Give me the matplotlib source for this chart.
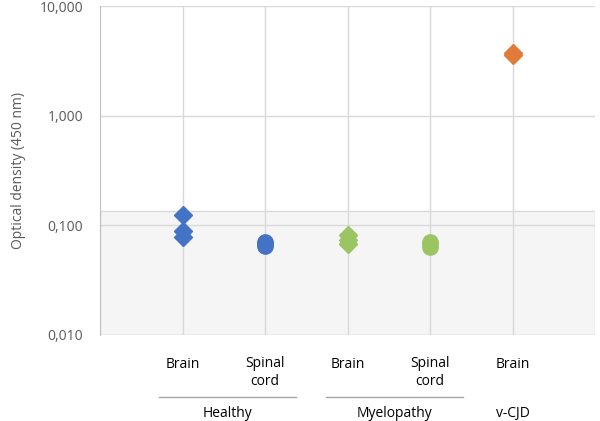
import numpy as np
import matplotlib.pyplot as plt
from matplotlib.ticker import FixedLocator, FuncFormatter, NullLocator

plt.rcParams['font.family'] = ['Open Sans', 'DejaVu Sans']

# sample values (optical density at 450 nm)
healthy_brain = [0.123, 0.089, 0.078]
healthy_spinal = [0.071, 0.068, 0.065]
myelo_brain = [0.081, 0.074, 0.068]
myelo_spinal = [0.070, 0.067, 0.064]
vcjd_brain = [3.72, 3.55]

tissue_labels = ['Brain', 'Spinal\ncord', 'Brain', 'Spinal\ncord', 'Brain']
group_labels = ['Healthy', 'Myelopathy', 'v-CJD']
cutoff = 0.134

blue = '#4472C4'
green = '#9BC563'
orange = '#E07B39'
grid_col = '#D9D9D9'
text_col = '#595959'

fig = plt.figure(figsize=(6, 4.21), dpi=100)
ax = fig.add_axes([0.1667, 0.2043, 0.825, 0.7814])

ax.set_yscale('log')
ax.set_ylim(0.01, 10)
ax.set_xlim(0, 6)

# shaded region below the cutoff
ax.axhspan(0.01, cutoff, facecolor='#F5F5F5', edgecolor='#D9D9D9', zorder=0, lw=1)

ax.plot([1] * len(healthy_brain), healthy_brain, 'D', color=blue, ms=9, zorder=3)
ax.plot([2] * len(healthy_spinal), healthy_spinal, 'o', color=blue, ms=11, zorder=3)
ax.plot([3] * len(myelo_brain), myelo_brain, 'D', color=green, ms=9, zorder=3)
ax.plot([4] * len(myelo_spinal), myelo_spinal, 'o', color=green, ms=11, zorder=3)
ax.plot([5] * len(vcjd_brain), vcjd_brain, 'D', color=orange, ms=9, zorder=3)

# axes styling
ax.yaxis.set_major_locator(FixedLocator([0.01, 0.1, 1, 10]))
ax.yaxis.set_minor_locator(NullLocator())
ax.yaxis.set_major_formatter(FuncFormatter(lambda v, p: f'{v:.3f}'.replace('.', ',')
                                           if v < 10 else '10,000'))
ax.set_xticks([1, 2, 3, 4, 5])
ax.set_xticklabels([])
ax.tick_params(axis='y', length=0, labelsize=10, colors=text_col, pad=12)
ax.tick_params(axis='x', length=0)
ax.grid(True, color=grid_col, lw=1, zorder=1)
ax.set_axisbelow(True)
for s in ['top', 'right', 'bottom']:
    ax.spines[s].set_visible(False)
ax.spines['left'].set_color('#BFBFBF')
ax.set_ylabel('Optical density (450 nm)', fontsize=10, color=text_col, labelpad=10)

# category labels
trans = ax.get_xaxis_transform()
for i, lab in enumerate(tissue_labels):
    ax.text(i + 1, -0.09 if '\n' not in lab else -0.115, lab, transform=trans,
            ha='center', va='center', fontsize=10, color='black', linespacing=1.3)

# group lines and labels
spans = [(0.72, 2.38), (2.74, 4.40)]
for (a, b) in spans:
    ax.plot([a, b], [-0.188, -0.188], transform=trans, color='#A6A6A6', lw=1, clip_on=False)
group_x = [1.55, 3.57, 5]
for x, lab in zip(group_x, group_labels):
    ax.text(x, -0.238, lab, transform=trans, ha='center', va='center', fontsize=10,
            color='black')

fig.savefig('out.png', dpi=100)
